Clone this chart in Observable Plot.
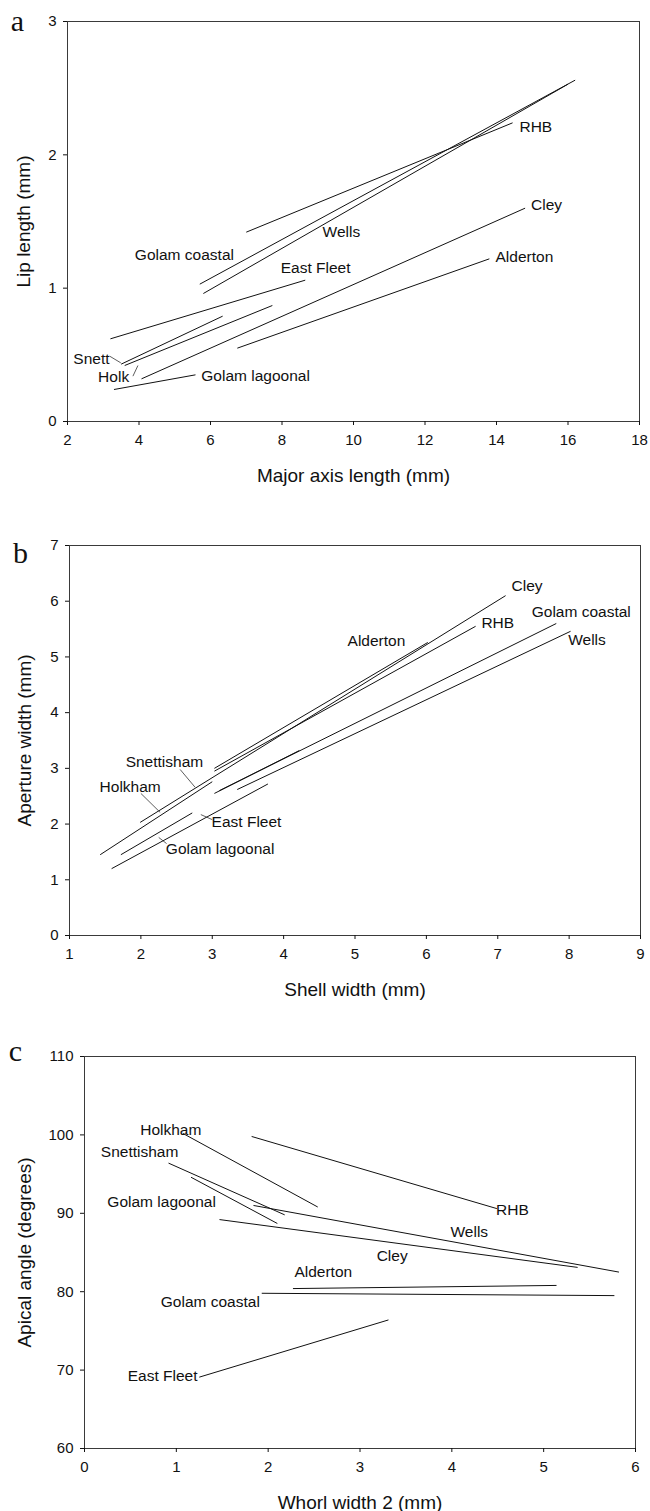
<!DOCTYPE html>
<html><head><meta charset="utf-8">
<script src="https://cdn.jsdelivr.net/npm/d3@7"></script>
<script src="https://cdn.jsdelivr.net/npm/@observablehq/plot@0.6"></script>
<style>
body{margin:0;background:#fff;}
#chart{width:650px;}
#chart svg{display:block;}
</style></head><body><div id="chart"></div>
<script>
// ---------- Panel a: Lip length vs Major axis length ----------
const sitesA = ["RHB","Golam coastal","Wells","Cley","East Fleet","Alderton","Snettisham","Holkham","Golam lagoonal"];
const a_x1 = [7.0, 5.7, 5.8, 4.07, 3.2, 6.75, 3.5, 3.6, 3.3];
const a_y1 = [1.42, 1.03, 0.96, 0.32, 0.62, 0.55, 0.43, 0.42, 0.24];
const a_x2 = [14.45, 16.2, 16.0, 14.8, 8.65, 13.8, 6.34, 7.73, 5.58];
const a_y2 = [2.24, 2.56, 2.53, 1.6, 1.06, 1.22, 0.79, 0.87, 0.35];
const a_labels = ["RHB","Golam coastal","Wells","Cley","East Fleet","Alderton","Snett","Holk","Golam lagoonal"];
const a_lx = [15.1, 5.27, 9.66, 15.4, 8.94, 14.78, 2.67, 3.29, 7.26];
const a_ly = [2.21, 1.25, 1.42, 1.62, 1.15, 1.23, 0.47, 0.33, 0.34];
// short leader ticks from labels to lines
const a_lead_x1 = [3.18, 3.83];
const a_lead_y1 = [0.49, 0.34];
const a_lead_x2 = [3.49, 3.97];
const a_lead_y2 = [0.44, 0.42];
const a_xTicks = [2,4,6,8,10,12,14,16,18];
const a_yTicks = [0,1,2,3];

// ---------- Panel b: Aperture width vs Shell width ----------
const sitesB = ["Cley","RHB","Alderton","Snettisham","Holkham","Golam coastal","Wells","East Fleet","Golam lagoonal"];
const b_x1 = [1.99, 3.03, 3.03, 1.72, 1.43, 3.1, 3.35, 3.03, 1.59];
const b_y1 = [2.03, 2.95, 3.0, 1.45, 1.45, 2.6, 2.62, 2.55, 1.2];
const b_x2 = [7.11, 6.69, 6.02, 2.72, 3.0, 7.82, 8.02, 4.22, 3.78];
const b_y2 = [6.1, 5.55, 5.26, 2.2, 2.76, 5.6, 5.46, 3.32, 2.72];
const b_labels = ["Cley","RHB","Alderton","Snettisham","Holkham","Golam coastal","Wells","East Fleet","Golam lagoonal"];
const b_lx = [7.41, 7.0, 5.3, 2.33, 1.85, 8.17, 8.25, 3.48, 3.11];
const b_ly = [6.27, 5.6, 5.28, 3.11, 2.66, 5.8, 5.31, 2.03, 1.56];
const b_lead_x1 = [2.55, 2.0, 3.0, 2.36];
const b_lead_y1 = [2.98, 2.55, 2.08, 1.65];
const b_lead_x2 = [2.76, 2.27, 2.84, 2.25];
const b_lead_y2 = [2.66, 2.21, 2.17, 1.76];
const b_xTicks = [1,2,3,4,5,6,7,8,9];
const b_yTicks = [0,1,2,3,4,5,6,7];

// ---------- Panel c: Apical angle vs Whorl width 2 ----------
const sitesC = ["Holkham","RHB","Snettisham","Golam lagoonal","Wells","Cley","Alderton","Golam coastal","East Fleet"];
const c_x1 = [1.07, 1.82, 0.915, 1.16, 1.84, 1.47, 2.27, 1.93, 1.25];
const c_y1 = [100.2, 99.8, 96.4, 94.6, 91.0, 89.2, 80.4, 79.8, 69.1];
const c_x2 = [2.54, 4.49, 2.18, 2.1, 5.82, 5.37, 5.14, 5.77, 3.31];
const c_y2 = [90.8, 90.6, 89.8, 88.7, 82.5, 83.1, 80.8, 79.5, 76.4];
const c_labels = ["Holkham","RHB","Snettisham","Golam lagoonal","Wells","Cley","Alderton","Golam coastal","East Fleet"];
const c_lx = [0.94, 4.66, 0.6, 0.84, 4.19, 3.35, 2.6, 1.37, 0.85];
const c_ly = [100.6, 90.4, 97.8, 91.5, 87.6, 84.6, 82.5, 78.7, 69.3];
const c_xTicks = [0,1,2,3,4,5,6];
const c_yTicks = [60,70,80,90,100,110];

const FONT = "'Liberation Sans', Arial, sans-serif";

function rows(sites, x1, y1, x2, y2) {
  return sites.map((s, i) => ({site: s, x1: x1[i], y1: y1[i], x2: x2[i], y2: y2[i]}));
}
function labelRows(names, lx, ly) {
  return names.map((n, i) => ({name: n, x: lx[i], y: ly[i]}));
}

function panel(o) {
  return Plot.plot({
    width: 650, height: o.height,
    marginTop: o.m[0], marginRight: o.m[1], marginBottom: o.m[2], marginLeft: o.m[3],
    style: {fontFamily: FONT, fontSize: "15px", color: "#111", background: "white", overflow: "visible"},
    x: {domain: o.xDomain, label: null},
    y: {domain: o.yDomain, label: null},
    marks: [
      Plot.frame({stroke: "#3a3a3a", strokeWidth: 1}),
      Plot.axisX({ticks: o.xTicks, tickSize: 4, tickPadding: 9, label: null, fontSize: 15, tickFormat: d3.format("d")}),
      Plot.axisY({ticks: o.yTicks, tickSize: 4, tickPadding: 7, label: null, fontSize: 15, tickFormat: d3.format("d")}),
      Plot.link(o.lines, {x1: "x1", y1: "y1", x2: "x2", y2: "y2", stroke: "#111", strokeWidth: 1}),
      Plot.link(o.leaders, {x1: "x1", y1: "y1", x2: "x2", y2: "y2", stroke: "#333", strokeWidth: 0.8}),
      Plot.text(o.labels, {x: "x", y: "y", text: "name", fontSize: 15.5, fill: "#111", textAnchor: "middle", lineAnchor: "middle"}),
      Plot.text([o.xLabel], {frameAnchor: "bottom", dy: 54, fontSize: 19, textAnchor: "middle", lineAnchor: "middle", fill: "#111"}),
      Plot.text([o.yLabel], {frameAnchor: "left", dx: o.yTitleDx, rotate: -90, fontSize: 19, textAnchor: "middle", lineAnchor: "middle", fill: "#111"}),
      Plot.text([o.letter], {frameAnchor: "top-left", dx: o.letterDx, dy: o.letterDy, fontFamily: "'Liberation Serif', 'Times New Roman', serif", fontSize: 30, textAnchor: "middle", lineAnchor: "middle", fill: "#111"})
    ]
  });
}

const leaderRows = (x1, y1, x2, y2) => x1.map((v, i) => ({x1: v, y1: y1[i], x2: x2[i], y2: y2[i]}));

const chart = document.getElementById("chart");
chart.append(panel({
  height: 505, m: [21, 11, 84, 67],
  xDomain: [2, 18], yDomain: [0, 3], xTicks: a_xTicks, yTicks: a_yTicks,
  lines: rows(sitesA, a_x1, a_y1, a_x2, a_y2),
  leaders: leaderRows(a_lead_x1, a_lead_y1, a_lead_x2, a_lead_y2),
  labels: labelRows(a_labels, a_lx, a_ly),
  xLabel: "Major axis length (mm)", yLabel: "Lip length (mm)",
  yTitleDx: -44, letter: "a", letterDx: -50, letterDy: 0
}));
chart.append(panel({
  height: 535, m: [40, 10, 105, 69],
  xDomain: [1, 9], yDomain: [0, 7], xTicks: b_xTicks, yTicks: b_yTicks,
  lines: rows(sitesB, b_x1, b_y1, b_x2, b_y2),
  leaders: leaderRows(b_lead_x1, b_lead_y1, b_lead_x2, b_lead_y2),
  labels: labelRows(b_labels, b_lx, b_ly),
  xLabel: "Shell width (mm)", yLabel: "Aperture width (mm)",
  yTitleDx: -45, letter: "b", letterDx: -49, letterDy: 8
}));
chart.append(panel({
  height: 471, m: [16, 15, 63, 84],
  xDomain: [0, 6], yDomain: [60, 110], xTicks: c_xTicks, yTicks: c_yTicks,
  lines: rows(sitesC, c_x1, c_y1, c_x2, c_y2),
  leaders: [],
  labels: labelRows(c_labels, c_lx, c_ly),
  xLabel: "Whorl width 2 (mm)", yLabel: "Apical angle (degrees)",
  yTitleDx: -60, letter: "c", letterDx: -69, letterDy: -5
}));
</script></body></html>
